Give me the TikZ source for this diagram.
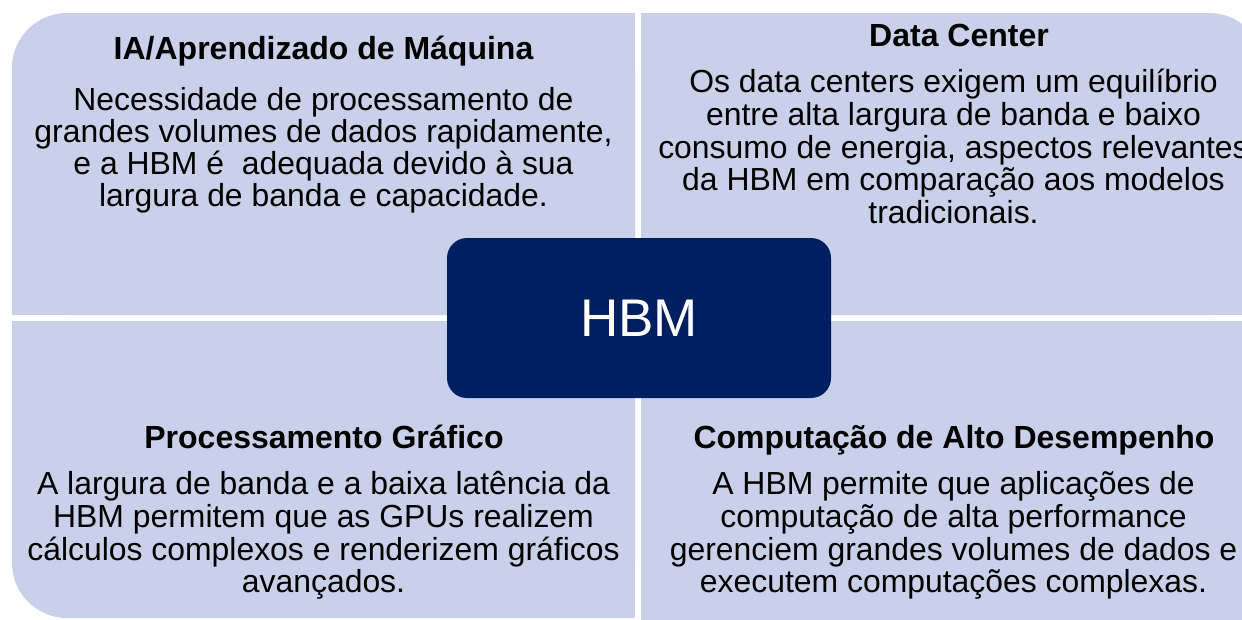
\documentclass[tikz,border=0pt]{standalone}
\usepackage{fontspec}
\setmainfont{Liberation Sans}
\definecolor{quadfill}{HTML}{C8D0EA}
\definecolor{navybox}{HTML}{001F60}
\begin{document}
\begin{tikzpicture}[x=1pt,y=-1pt,
  quad/.style={fill=quadfill},
  ttl/.style={anchor=base,inner sep=0pt,font=\fontsize{32}{34}\selectfont\bfseries,text=black},
  bodyline/.style={anchor=base,inner sep=0pt,font=\fontsize{31.9}{32}\selectfont,text=black},
  centerbox/.style={fill=navybox,rounded corners=20pt,minimum width=384pt,minimum height=160pt,inner sep=0pt,text=white,font=\fontsize{53}{56}\selectfont}]
\useasboundingbox (0,0) rectangle (1242,619);
\clip (0,0) rectangle (1242,619);
\fill[white] (0,0) rectangle (1242,619);
% top-left quadrant
\fill[quad,rounded corners=55pt] (12,13) rectangle (635,315);
\fill[quad] (300,13) rectangle (635,315);
\fill[quad] (12,160) rectangle (635,315);
% top-right quadrant
\fill[quad,rounded corners=55pt] (641,13) rectangle (1264,315);
\fill[quad] (641,13) rectangle (950,315);
\fill[quad] (641,160) rectangle (1264,315);
% bottom-left quadrant
\fill[quad,rounded corners=55pt] (12,321) rectangle (635,618);
\fill[quad] (300,321) rectangle (635,618);
\fill[quad] (12,321) rectangle (635,470);
% bottom-right quadrant
\fill[quad] (641,321) rectangle (1264,630);
% texts top-left
\node[ttl] (tlt) at (323.5,59) {IA/Aprendizado de Máquina};
\node[bodyline] (tl1) at (323.5,110) {Necessidade de processamento de};
\node[bodyline] (tl2) at (323.5,142) {grandes volumes de dados rapidamente,};
\node[bodyline] (tl3) at (323.5,174) {e a HBM é\ \ adequada devido à sua};
\node[bodyline] (tl4) at (323.5,206.5) {largura de banda e capacidade.};
% texts top-right
\node[ttl] (trt) at (959,46.5) {Data Center};
\node[bodyline] (tr1) at (953.5,92) {Os data centers exigem um equilíbrio};
\node[bodyline] (tr2) at (953.5,125) {entre alta largura de banda e baixo};
\node[bodyline] (tr3) at (953.5,158) {consumo de energia, aspectos relevantes};
\node[bodyline] (tr4) at (953.5,190.5) {da HBM em comparação aos modelos};
\node[bodyline] (tr5) at (953.5,223) {tradicionais.};
% texts bottom-left
\node[ttl] (blt) at (324,448.5) {Processamento Gráfico};
\node[bodyline] (bl1) at (323.5,494) {A largura de banda e a baixa latência da};
\node[bodyline] (bl2) at (323.5,527) {HBM permitem que as GPUs realizem};
\node[bodyline] (bl3) at (323.5,560) {cálculos complexos e renderizem gráficos};
\node[bodyline] (bl4) at (323.5,592) {avançados.};
% texts bottom-right
\node[ttl] (brt) at (954,448.5) {Computação de Alto Desempenho};
\node[bodyline] (br1) at (953.5,494) {A HBM permite que aplicações de};
\node[bodyline] (br2) at (953.5,527) {computação de alta performance};
\node[bodyline] (br3) at (953.5,560) {gerenciem grandes volumes de dados e};
\node[bodyline] (br4) at (953.5,592) {executem computações complexas.};
% center box
\node[centerbox] (hbm) at (639,318) {HBM};
\end{tikzpicture}
\end{document}
